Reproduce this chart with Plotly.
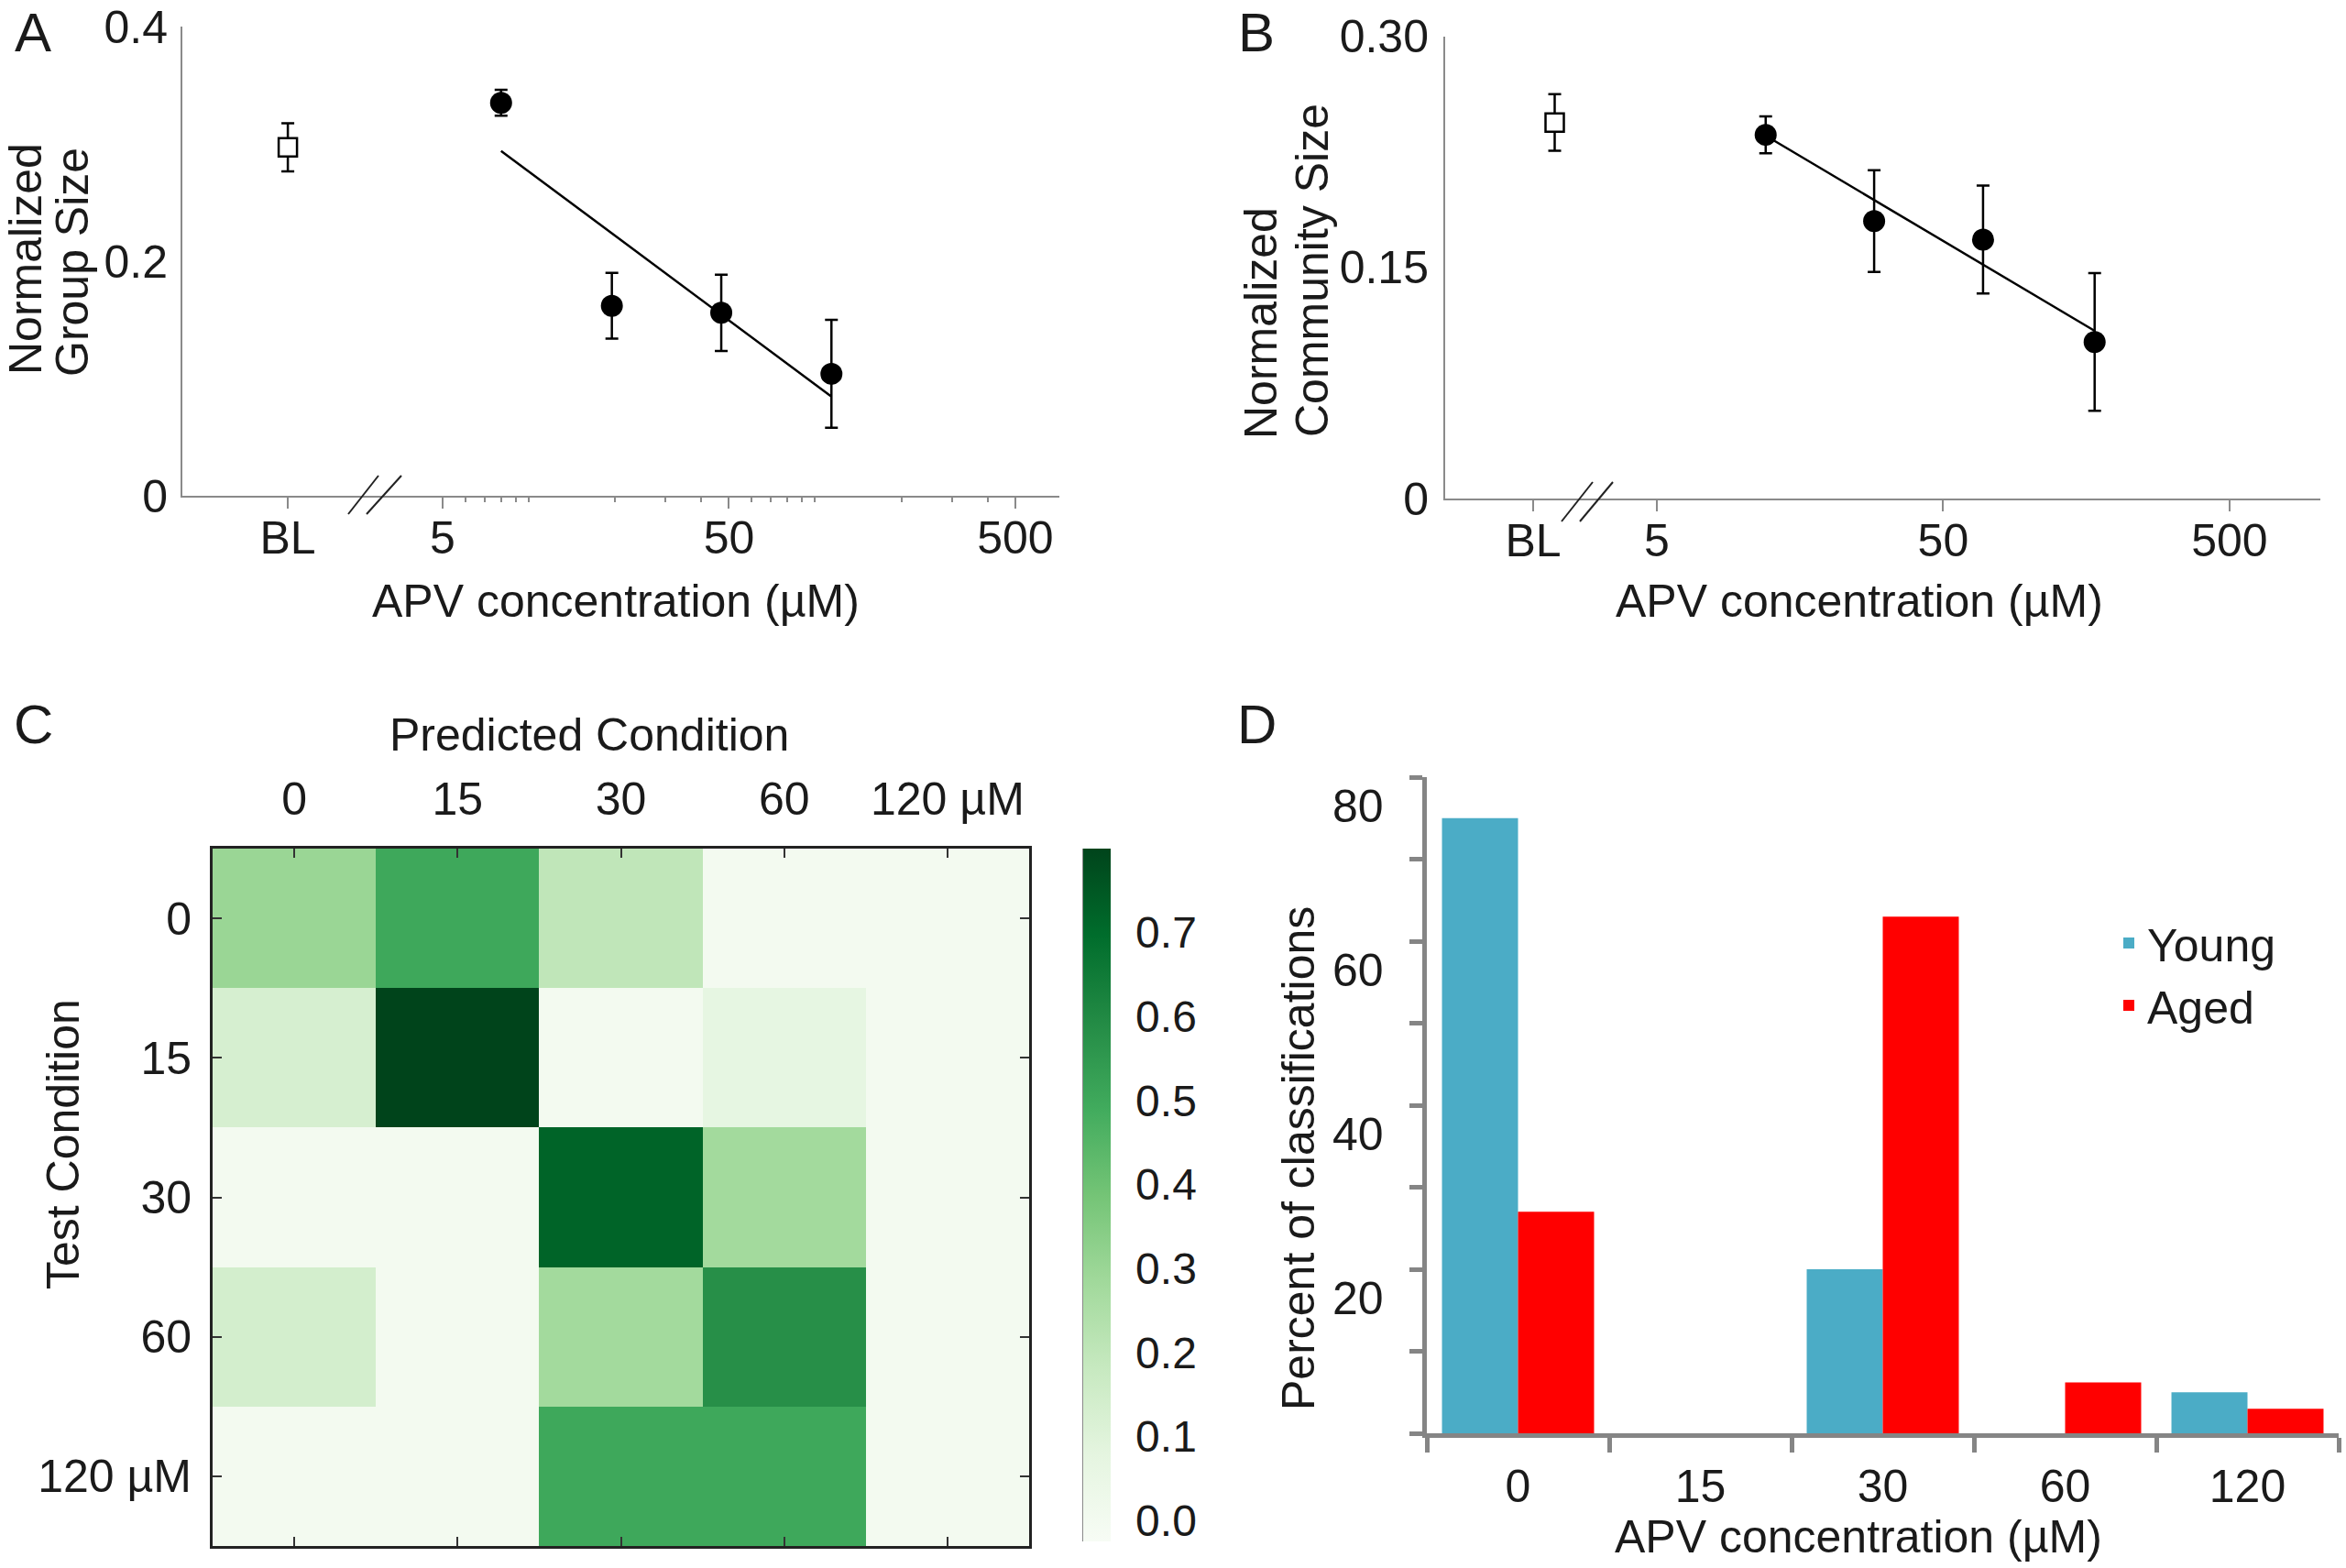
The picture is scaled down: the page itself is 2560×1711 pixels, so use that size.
import plotly.graph_objects as go

W, H = 2560, 1711
FONT = "Liberation Sans, Arial, sans-serif"
TXT = "#1a1a1a"

def px(x):
    return x / W

def py(y):
    return 1 - y / H

# ---------------- data ----------------
# Panel A: normalized group size
a_bl_x = [1.44]
a_bl_y = [0.297]
a_bl_err = [0.0205]
a_conc = [8.0, 19.5, 47.0, 114.0]
a_size = [0.335, 0.162, 0.156, 0.104]
a_err = [0.011, 0.028, 0.0325, 0.046]
a_fit_x = [8.0, 114.0]
a_fit_y = [0.294, 0.0846]
a_xtickvals = [1.44, 5, 50, 500]
a_xticktext = ["BL", "5", "50", "500"]
a_minorvals = [6, 7, 8, 9, 10, 20, 30, 40, 60, 70, 80, 90, 100, 200, 300, 400]
a_yticks = [0, 0.2, 0.4]
a_yticktext = ["0", "0.2", "0.4"]

# Panel B: normalized community size
b_bl_x = [2.2]
b_bl_y = [0.244]
b_bl_err = [0.0184]
b_conc = [12.0, 28.7, 68.9, 169.0]
b_size = [0.236, 0.180, 0.168, 0.1016]
b_err = [0.012, 0.033, 0.035, 0.0447]
b_fit_x = [12.0, 169.0]
b_fit_y = [0.2355, 0.1088]
b_xtickvals = [1.85, 5, 50, 500]
b_xticktext = ["BL", "5", "50", "500"]
b_yticks = [0, 0.15, 0.30]
b_yticktext = ["0", "0.15", "0.30"]

# Panel C: confusion matrix (rows = test condition, cols = predicted)
c_labels = ["0", "15", "30", "60", "120 µM"]
c_matrix = [
    [0.30, 0.50, 0.20, 0.00, 0.00],
    [0.13, 0.80, 0.00, 0.07, 0.00],
    [0.00, 0.00, 0.72, 0.28, 0.00],
    [0.14, 0.00, 0.28, 0.58, 0.00],
    [0.00, 0.00, 0.50, 0.50, 0.00],
]
c_cbar_ticks = [0.0, 0.1, 0.2, 0.3, 0.4, 0.5, 0.6, 0.7]

# Panel D: percent of classifications
d_cats = ["0", "15", "30", "60", "120"]
d_young = [75.0, 0.0, 20.0, 0.0, 5.0]
d_aged = [27.0, 0.0, 63.0, 6.2, 3.0]
d_ylabels = [0, 20, 40, 60, 80]

greens = [[0, "#f7fcf5"], [0.125, "#e5f5e0"], [0.25, "#c7e9c0"], [0.375, "#a1d99b"],
          [0.5, "#74c476"], [0.625, "#41ab5d"], [0.75, "#238b45"], [0.875, "#006d2c"],
          [1, "#00441b"]]

GRAY_AB = "#8a8a8a"
GRAY_D = "#858585"

fig = go.Figure()

# ---------------- Panel A ----------------
fig.add_trace(go.Scatter(x=a_fit_x, y=a_fit_y, mode="lines", line=dict(color="black", width=2.5),
                         xaxis="x", yaxis="y", showlegend=False))
fig.add_trace(go.Scatter(x=a_bl_x, y=a_bl_y, mode="markers",
                         error_y=dict(type="data", array=a_bl_err, color="black", thickness=2.5, width=7),
                         marker=dict(symbol="square", size=20, color="white", line=dict(color="black", width=2.5)),
                         xaxis="x", yaxis="y", showlegend=False))
fig.add_trace(go.Scatter(x=a_conc, y=a_size, mode="markers",
                         error_y=dict(type="data", array=a_err, color="black", thickness=2.5, width=7),
                         marker=dict(symbol="circle", size=24, color="black"),
                         xaxis="x", yaxis="y", showlegend=False))

# ---------------- Panel B ----------------
fig.add_trace(go.Scatter(x=b_fit_x, y=b_fit_y, mode="lines", line=dict(color="black", width=2.5),
                         xaxis="x2", yaxis="y2", showlegend=False))
fig.add_trace(go.Scatter(x=b_bl_x, y=b_bl_y, mode="markers",
                         error_y=dict(type="data", array=b_bl_err, color="black", thickness=2.5, width=7),
                         marker=dict(symbol="square", size=20, color="white", line=dict(color="black", width=2.5)),
                         xaxis="x2", yaxis="y2", showlegend=False))
fig.add_trace(go.Scatter(x=b_conc, y=b_size, mode="markers",
                         error_y=dict(type="data", array=b_err, color="black", thickness=2.5, width=7),
                         marker=dict(symbol="circle", size=24, color="black"),
                         xaxis="x2", yaxis="y2", showlegend=False))

# ---------------- Panel C ----------------
fig.add_trace(go.Heatmap(
    z=c_matrix, x=c_labels, y=c_labels, xaxis="x3", yaxis="y3",
    colorscale=greens, zmin=-0.025, zmax=0.8, showscale=True,
    colorbar=dict(x=px(1182), xanchor="left", xpad=0, y=py(1304), yanchor="middle",
                  len=756 / H, lenmode="fraction", ypad=0, thickness=30, outlinewidth=0,
                  tickmode="array", tickvals=c_cbar_ticks, ticktext=[f"{v:.1f}" for v in c_cbar_ticks],
                  ticks="outside", ticklen=18, tickcolor="rgba(0,0,0,0)",
                  tickfont=dict(family=FONT, size=48, color=TXT)),
    hoverinfo="skip"))

# ---------------- Panel D ----------------
fig.add_trace(go.Bar(x=d_cats, y=d_young, name="Young", marker=dict(color="#4BACC6", line=dict(width=0)),
                     xaxis="x4", yaxis="y4"))
fig.add_trace(go.Bar(x=d_cats, y=d_aged, name="Aged", marker=dict(color="#FF0000", line=dict(width=0)),
                     xaxis="x4", yaxis="y4"))

tickfont = dict(family=FONT, size=50, color=TXT)
common = dict(automargin=False, showgrid=False, zeroline=False)

layout = dict(
    template="none",
    width=W, height=H, margin=dict(l=0, r=0, t=0, b=0, pad=0), autosize=False,
    paper_bgcolor="white", plot_bgcolor="white",
    font=dict(family=FONT, color=TXT),
    barmode="group", bargap=0.166, bargroupgap=0,
    showlegend=True,
    legend=dict(x=px(2303), y=py(990), xanchor="left", yanchor="top",
                font=dict(family=FONT, size=50, color=TXT), bgcolor="rgba(0,0,0,0)",
                tracegroupgap=0, itemwidth=30),
    xaxis=dict(domain=[px(199), px(1156)], anchor="y", type="log", range=[-0.210, 2.853],
               showline=True, linecolor=GRAY_AB, linewidth=2,
               ticks="outside", ticklen=12, tickwidth=2, tickcolor=GRAY_AB,
               tickmode="array", tickvals=a_xtickvals, ticktext=a_xticktext, tickfont=tickfont,
               ticklabelstandoff=-11,
               minor=dict(ticks="outside", ticklen=5, tickwidth=1.5, tickcolor=GRAY_AB,
                          tickmode="array", tickvals=a_minorvals, showgrid=False), **common),
    yaxis=dict(domain=[py(541), py(29)], anchor="x", range=[0, 0.4],
               showline=True, linecolor=GRAY_AB, linewidth=2,
               ticks="", tickmode="array", tickvals=a_yticks, ticktext=a_yticktext, tickfont=tickfont,
               ticklabelstandoff=4, **common),
    xaxis2=dict(domain=[px(1577), px(2532)], anchor="y2", type="log", range=[-0.040, 3.016],
                showline=True, linecolor=GRAY_AB, linewidth=2,
                ticks="outside", ticklen=12, tickwidth=2, tickcolor=GRAY_AB,
                tickmode="array", tickvals=b_xtickvals, ticktext=b_xticktext, tickfont=tickfont,
                ticklabelstandoff=-11, **common),
    yaxis2=dict(domain=[py(544), py(39.5)], anchor="x2", range=[0, 0.30],
                showline=True, linecolor=GRAY_AB, linewidth=2,
                ticks="", tickmode="array", tickvals=b_yticks, ticktext=b_yticktext, tickfont=tickfont,
                ticklabelstandoff=6, **common),
    xaxis3=dict(domain=[px(232), px(1123)], anchor="y3", side="top", type="category",
                showline=True, linecolor="#222222", linewidth=3, mirror="ticks",
                ticks="inside", ticklen=10, tickwidth=2, tickcolor="#333333",
                tickfont=tickfont, ticklabelstandoff=14, **common),
    yaxis3=dict(domain=[py(1687), py(926)], anchor="x3", type="category", autorange="reversed",
                showline=True, linecolor="#222222", linewidth=3, mirror="ticks",
                ticks="inside", ticklen=10, tickwidth=2, tickcolor="#333333",
                tickfont=tickfont, ticklabelstandoff=10, **common),
    xaxis4=dict(domain=[px(1557), px(2552)], anchor="y4", type="category", range=[-0.5, 4.5],
                showline=True, linecolor=GRAY_D, linewidth=5,
                ticks="outside", tickson="boundaries", ticklen=16, tickwidth=5, tickcolor=GRAY_D,
                tickfont=tickfont, ticklabelstandoff=10, **common),
    yaxis4=dict(domain=[py(1564), py(848)], anchor="x4", range=[0, 80],
                showline=True, linecolor=GRAY_D, linewidth=5,
                ticks="outside", ticklen=14, tickwidth=5, tickcolor=GRAY_D,
                tickmode="linear", tick0=0, dtick=10, showticklabels=False, **common),
)
fig.update_layout(**layout)

ann = []

def text(t, x, y, size=50, angle=0, xanchor="center", yanchor="middle", xref="paper", yref="paper"):
    ann.append(dict(text=t, x=x, y=y, xref=xref, yref=yref, showarrow=False, textangle=angle,
                    xanchor=xanchor, yanchor=yanchor, font=dict(family=FONT, size=size, color=TXT)))

# panel letters
text("A", px(36), 1, size=60, yanchor="top")
text("B", px(1371), 1, size=60, yanchor="top")
text("C", px(36), py(790), size=60)
text("D", px(1371), py(790), size=60)

# panel A titles
text("Normalized", px(28), py(283), angle=-90)
text("Group Size", px(79), py(286), angle=-90)
text("APV concentration (µM)", px(672), py(656))
# panel B titles
text("Normalized", px(1376), py(353), angle=-90)
text("Community Size", px(1432), py(295), angle=-90)
text("APV concentration (µM)", px(2029), py(656))
# panel C titles
text("Predicted Condition", px(643), py(802))
text("Test Condition", px(69), py(1249), angle=-90)
# panel D titles
text("Percent of classifications", px(1417), py(1264), angle=-90)
text("APV concentration (µM)", px(2028), py(1677))
# panel D y tick labels (drawn slightly offset from the tick marks, as in the original)
label_shift = 3.6
for v in d_ylabels:
    text(str(v), px(1512), v - label_shift, xanchor="right", yref="y4")

fig.update_layout(annotations=ann)

# axis-break marks and colorbar edge
shapes = []
for (x0, y0, x1, y1) in [(380, 561, 413, 519), (400, 561, 438, 519),
                         (1704, 569, 1738, 526), (1724, 569, 1760, 526)]:
    shapes.append(dict(type="line", xref="paper", yref="paper", x0=px(x0), y0=py(y0), x1=px(x1), y1=py(y1),
                       line=dict(color="#222222", width=2)))
shapes.append(dict(type="line", xref="paper", yref="paper", x0=px(1182), y0=py(926), x1=px(1182), y1=py(1682),
                   line=dict(color="#8a8a8a", width=2)))
fig.update_layout(shapes=shapes)

fig.write_html("out.html", config={"displayModeBar": False},
               post_script="document.body.style.margin='0';document.body.style.overflow='hidden';")
